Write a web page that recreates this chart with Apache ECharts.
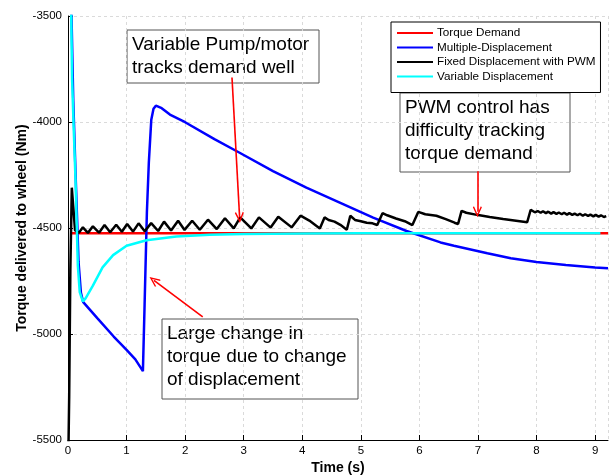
<!DOCTYPE html>
<html>
<head>
<meta charset="utf-8">
<script src="https://cdn.jsdelivr.net/npm/echarts@6/dist/echarts.min.js"></script>
<style>
html,body{margin:0;padding:0;background:#fff;}
#chart{width:614px;height:476px;}
</style>
</head>
<body>
<div id="chart"></div>
<script>
// ---------------- data ----------------
var xTicks = [0, 1, 2, 3, 4, 5, 6, 7, 8, 9];
var yTicks = [-5500, -5000, -4500, -4000, -3500];

var seriesNames = ['Torque Demand', 'Multiple-Displacement', 'Fixed Displacement with PWM', 'Variable Displacement'];

var demandT = [0.05, 9.22];
var demandV = [-4525, -4525];

var multiT = [0.0, 0.03, 0.06, 0.09, 0.13, 0.18, 0.22, 0.26, 0.5, 0.78, 1.0, 1.15, 1.279, 1.308, 1.347, 1.38, 1.422, 1.46, 1.50, 1.6, 1.74, 2.0, 2.5, 2.93, 3.5, 4.07, 4.64, 5.21, 5.78, 6.36, 6.59, 7.16, 7.56, 8.0, 8.5, 9.0, 9.22];
var multiV = [-2500, -3000, -3500, -3900, -4250, -4660, -4805, -4850, -4925, -5012, -5075, -5120, -5175, -4860, -4426, -4192, -3989, -3938, -3923, -3935, -3965, -4001, -4081, -4145, -4232, -4310, -4380, -4451, -4514, -4568, -4584, -4619, -4643, -4660, -4675, -4686, -4690];

var pwmT = [0.0, 0.02, 0.04, 0.065, 0.09, 0.12, 0.185,
  0.254, 0.34, 0.425, 0.53, 0.624, 0.72, 0.823, 0.92, 1.01, 1.11, 1.205, 1.31, 1.42, 1.54, 1.64, 1.76, 1.88, 1.99,
  2.12, 2.25, 2.39, 2.54, 2.68, 2.83, 2.94, 3.13, 3.26, 3.46, 3.59, 3.82, 3.97, 4.12, 4.30,
  4.38, 4.45, 4.55, 4.65, 4.76, 4.82, 4.9, 5.0, 5.1, 5.2, 5.28, 5.37, 5.45, 5.6, 5.75, 5.88,
  5.98, 6.1, 6.29, 6.45, 6.6, 6.66, 6.72, 6.8, 6.98, 7.2, 7.43, 7.65, 7.84, 7.90,
  7.97, 8.02, 8.07, 8.11, 8.16, 8.20, 8.25, 8.29, 8.34, 8.38, 8.43, 8.47, 8.52, 8.56, 8.61, 8.65, 8.70, 8.74, 8.79, 8.83, 8.88, 8.92, 8.97, 9.01, 9.06, 9.10, 9.15, 9.19];
var pwmV = [-5700, -5300, -4700, -4310, -4400, -4510, -4523,
  -4497, -4523, -4492, -4522, -4486, -4520, -4485, -4518, -4481, -4517, -4478, -4515, -4477, -4514, -4470, -4512, -4466, -4509,
  -4466, -4508, -4461, -4505, -4454, -4502, -4450, -4502, -4450, -4498, -4447, -4497, -4442, -4465, -4502,
  -4450, -4462, -4470, -4485, -4508, -4442, -4462, -4468, -4475, -4478, -4486, -4430, -4440, -4455, -4468, -4486,
  -4424, -4435, -4442, -4458, -4475, -4481, -4419, -4428, -4438, -4448, -4458, -4466, -4473, -4414,
  -4426, -4420, -4428, -4421, -4430, -4423, -4432, -4425, -4433, -4427, -4435, -4428, -4437, -4430, -4438, -4432, -4440, -4433, -4442, -4435, -4443, -4437, -4445, -4438, -4446, -4440, -4448, -4444];

var varT = [0.0, 0.03, 0.055, 0.07, 0.1, 0.128, 0.168, 0.2, 0.254, 0.30, 0.425, 0.59, 0.77, 1.0, 1.34, 1.85, 2.42, 3.0, 4.0, 5.0, 6.0, 7.0, 8.0, 9.09];
var varV = [-2500, -3100, -3500, -3800, -4050, -4270, -4677, -4802, -4847, -4832, -4772, -4686, -4628, -4584, -4558, -4540, -4532, -4528, -4526, -4525, -4525, -4525, -4525, -4525];

// annotation arrows: [tailT, tailV, tipT, tipV]
var arrowVarPump = [2.80, -3790, 2.93, -4450];
var arrowPwm = [6.99, -4232, 6.99, -4423];
var arrowLarge = [2.30, -4919, 1.467, -4747];

var noteVarPump = ['Variable Pump/motor', 'tracks demand well'];
var notePwm = ['PWM control has', 'difficulty tracking', 'torque demand'];
var noteLarge = ['Large change in', 'torque due to change', 'of displacement'];

function zip(a, b) { return a.map(function (v, i) { return [v, b[i]]; }); }

var FONT = '"Liberation Sans", Arial, sans-serif';
var chevron = 'path://M5,0 L10,9 L8.8,10 L5,3 L1.2,10 L0,9 Z';
var legendLine = 'path://M0,0 L36,0 L36,2.2 L0,2.2 Z';

function arrowLine(a) {
  return [{ coord: [a[0], a[1]] }, { coord: [a[2], a[3]] }];
}

function noteBox(x, y, w, h, lines) {
  return {
    type: 'group', left: x, top: y, z: 100,
    children: [
      { type: 'rect', shape: { x: 0, y: 0, width: w, height: h },
        style: { fill: '#fff', stroke: '#555', lineWidth: 1 } },
      { type: 'text', x: 5, y: 3,
        style: { text: lines.join('\n'), font: '19px ' + FONT, fill: '#000', lineHeight: 23 } }
    ]
  };
}

var chart = echarts.init(document.getElementById('chart'), null, { renderer: 'canvas' });

var option = {
  animation: false,
  backgroundColor: '#fff',
  grid: { left: 68, right: 6, top: 16, bottom: 36, containLabel: false, outerBoundsMode: 'none' },
  legend: {
    orient: 'vertical', left: 391, top: 22,
    data: seriesNames,
    icon: legendLine,
    itemWidth: 36, itemHeight: 12, itemGap: 2.5,
    padding: [5, 5, 10, 6],
    backgroundColor: '#fff',
    borderColor: '#000', borderWidth: 1, borderRadius: 0,
    textStyle: { fontFamily: FONT, fontSize: 11.7, color: '#000', padding: [0, 0, 0, -1] },
    z: 50
  },
  xAxis: {
    type: 'value', min: 0, max: 9.22, interval: 1,
    name: 'Time (s)', nameLocation: 'middle', nameGap: 21, nameMoveOverlap: false,
    nameTextStyle: { fontFamily: FONT, fontSize: 14, fontWeight: 'bold', color: '#000' },
    axisLine: { show: true, lineStyle: { color: '#000', width: 1 } },
    axisTick: { show: true, inside: true, length: 5, lineStyle: { color: '#000' } },
    axisLabel: { fontFamily: FONT, fontSize: 11.5, color: '#000', margin: 5, showMaxLabel: false,
      formatter: function (v) { return xTicks.indexOf(v) >= 0 ? String(v) : ''; } },
    splitLine: { show: true, lineStyle: { color: '#dadada', type: [3, 3], width: 1 } }
  },
  yAxis: {
    type: 'value', min: -5500, max: -3500, interval: 500,
    name: 'Torque delivered to wheel (Nm)', nameLocation: 'middle', nameGap: 39, nameMoveOverlap: false,
    nameTextStyle: { fontFamily: FONT, fontSize: 14, fontWeight: 'bold', color: '#000' },
    axisLine: { show: true, lineStyle: { color: '#000', width: 1 } },
    axisTick: { show: true, inside: true, length: 5, lineStyle: { color: '#000' } },
    axisLabel: { fontFamily: FONT, fontSize: 11.5, color: '#000', margin: 6,
      formatter: function (v) { return yTicks.indexOf(v) >= 0 ? String(v) : ''; } },
    splitLine: { show: true, lineStyle: { color: '#dadada', type: [3, 3], width: 1 } }
  },
  series: [
    { name: seriesNames[0], type: 'line', data: zip(demandT, demandV), symbol: 'none',
      lineStyle: { color: '#ff0000', width: 2.5 }, itemStyle: { color: '#ff0000' }, z: 2,
      markLine: {
        silent: true, symbol: ['none', chevron], symbolSize: [9, 11],
        lineStyle: { color: '#ff0000', width: 1.6, type: 'solid' }, label: { show: false },
        data: [arrowLine(arrowVarPump), arrowLine(arrowPwm), arrowLine(arrowLarge)],
        z: 10
      } },
    { name: seriesNames[1], type: 'line', data: zip(multiT, multiV), symbol: 'none',
      lineStyle: { color: '#0000ff', width: 2.5 }, itemStyle: { color: '#0000ff' }, z: 3 },
    { name: seriesNames[2], type: 'line', data: zip(pwmT, pwmV), symbol: 'none',
      lineStyle: { color: '#000000', width: 2.5 }, itemStyle: { color: '#000000' }, z: 4 },
    { name: seriesNames[3], type: 'line', data: zip(varT, varV), symbol: 'none',
      lineStyle: { color: '#00ffff', width: 2.5 }, itemStyle: { color: '#00ffff' }, z: 5 }
  ],
  graphic: [
    noteBox(126.5, 29.5, 192, 53, noteVarPump),
    noteBox(399.5, 92.5, 170, 79, notePwm),
    noteBox(161.5, 318.5, 196, 80, noteLarge)
  ]
};
chart.setOption(option);
</script>
</body>
</html>
